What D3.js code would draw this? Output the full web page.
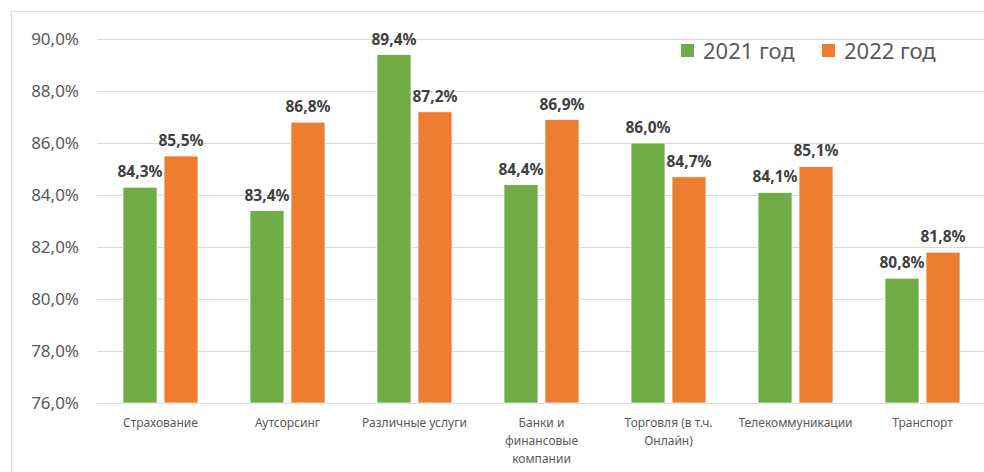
<!DOCTYPE html>
<html><head><meta charset="utf-8">
<script src="https://cdn.jsdelivr.net/npm/d3@7"></script>
<style>body{margin:0;background:#fff}svg{display:block}text{font-family:"Noto Sans","Open Sans",sans-serif}</style>
</head><body><svg id="c" width="984" height="472"></svg>
<script>
const categories = [["Страхование"],["Аутсорсинг"],["Различные услуги"],["Банки и","финансовые","компании"],["Торговля (в т.ч.","Онлайн)"],["Телекоммуникации"],["Транспорт"]];
const seriesNames = ["2021 год","2022 год"];
const values2021 = [84.3,83.4,89.4,84.4,86.0,84.1,80.8];
const values2022 = [85.5,86.8,87.2,86.9,84.7,85.1,81.8];
const yTicks = [76,78,80,82,84,86,88,90];
const colors = ["#70ad47","#ed7d31"];

const svg = d3.select("#c");
// outer border
svg.append("path").attr("d","M11.5,472V11.5H984").attr("fill","none").attr("stroke","#d9d9d9");

const x0 = d3.scaleBand().domain(d3.range(categories.length)).range([97,986]);
const y = d3.scaleLinear().domain([76,90]).range([403,39]);
const barW = 34, gap = 7;

const fmt = v => d3.format(".1f")(v).replace(".",",") + "%";

// gridlines
svg.append("g").selectAll("line").data(yTicks).join("line")
  .attr("x1",97).attr("x2",984).attr("y1",d=>Math.round(y(d))+0.5).attr("y2",d=>Math.round(y(d))+0.5)
  .attr("stroke","#d9d9d9").attr("stroke-width",1);
// y labels
svg.append("g").selectAll("text").data(yTicks).join("text")
  .attr("x",79).attr("y",d=>y(d)).attr("dy","0.35em").attr("text-anchor","end")
  .attr("font-size",17).attr("fill","#595959").text(d=>fmt(d));

const data = [values2021, values2022];
data.forEach((vals, s) => {
  const g = svg.append("g");
  vals.forEach((v,i) => {
    const cx = x0(i) + x0.bandwidth()/2;
    const bx = s===0 ? cx - gap/2 - barW : cx + gap/2;
    g.append("rect").attr("x",bx).attr("y",y(v)).attr("width",barW).attr("height",y(76)-y(v))
      .attr("fill",colors[s]).attr("stroke","#fff").attr("stroke-width",0.75);
    g.append("text").attr("x",bx+barW/2).attr("y",y(v)-10).attr("text-anchor","middle")
      .attr("font-size",15.5).attr("font-weight","bold").attr("fill","#404040").text(fmt(v));
  });
});

// x labels
categories.forEach((lines,i) => {
  const cx = x0(i) + x0.bandwidth()/2;
  const t = svg.append("text").attr("x",cx).attr("y",427).attr("text-anchor","middle")
    .attr("font-size",12).attr("fill","#595959");
  lines.forEach((l,k)=> t.append("tspan").attr("x",cx).attr("dy",k===0?0:18).text(l));
});

// legend
const lx = [681, 822];
seriesNames.forEach((n,s)=>{
  svg.append("rect").attr("x",lx[s]).attr("y",44).attr("width",13).attr("height",13).attr("fill",colors[s]);
  svg.append("text").attr("x",lx[s]+22).attr("y",51).attr("dy","0.35em").attr("font-size",22)
    .attr("fill","#595959").text(n);
});
</script></body></html>
